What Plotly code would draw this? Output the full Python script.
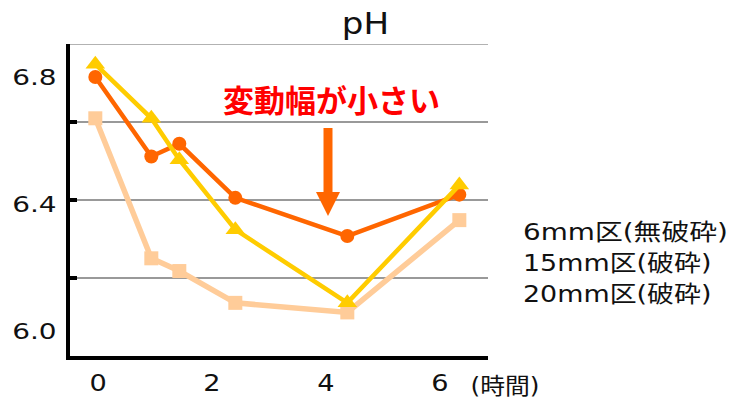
import plotly.graph_objects as go

# Sampling times (h) and pH readings for the three plot sizes
hours = [0, 1, 1.5, 2.5, 4.5, 6.5]
ph_6mm = [6.80, 6.55, 6.59, 6.42, 6.30, 6.43]
ph_15mm = [6.84, 6.67, 6.54, 6.32, 6.09, 6.46]
ph_20mm = [6.67, 6.23, 6.19, 6.09, 6.06, 6.35]

series_names = ["6mm区(無破砕)", "15mm区(破砕)", "20mm区(破砕)"]
x_tick_vals = [0, 2, 4, 6]
y_tick_vals = [6.0, 6.4, 6.8]

ORANGE = "#FF6600"
YELLOW = "#FFCC00"
PEACH = "#FFCC99"
INK = "#111111"
GRID = "#999999"
FONT = "DejaVu Sans, Noto Sans CJK JP, sans-serif"

W, H = 736, 401
L, R, T, B = 70, 488, 44, 356


def px_x(X):
    return (X - L) / (R - L)


def px_y(Y):
    return (B - Y) / (B - T)


fig = go.Figure()

fig.add_trace(go.Scatter(
    x=hours, y=ph_20mm, name=series_names[2], mode="lines+markers",
    line=dict(color=PEACH, width=5.5),
    marker=dict(symbol="square", size=14, color=PEACH),
))
fig.add_trace(go.Scatter(
    x=hours, y=ph_6mm, name=series_names[0], mode="lines+markers",
    line=dict(color=ORANGE, width=4.5),
    marker=dict(symbol="circle", size=14, color=ORANGE),
))
fig.add_trace(go.Scatter(
    x=hours, y=ph_15mm, name=series_names[1], mode="lines+markers",
    line=dict(color=YELLOW, width=4.5),
    marker=dict(symbol="triangle-up", size=17, color=YELLOW),
))

# empty traces that carry the gridline axis and the hour-label axis
fig.add_trace(go.Scatter(x=[None], y=[None], xaxis="x", yaxis="y2",
                         showlegend=False, hoverinfo="skip"))
fig.add_trace(go.Scatter(x=[None], y=[None], xaxis="x2", yaxis="y",
                         showlegend=False, hoverinfo="skip"))

fig.update_layout(
    width=W, height=H,
    margin=dict(l=L, r=W - R, t=T, b=H - B, autoexpand=False),
    paper_bgcolor="white", plot_bgcolor="white",
    showlegend=False,
    font=dict(family=FONT, color=INK),
    xaxis=dict(
        range=[-0.452, 7.012], showgrid=False, zeroline=False,
        showline=True, linecolor="black", linewidth=4,
        ticks="", showticklabels=False, automargin=False,
    ),
    xaxis2=dict(
        overlaying="x", anchor="y", side="bottom",
        range=[-0.4925, 6.847], showgrid=False, zeroline=False,
        showline=False, ticks="", tickvals=x_tick_vals,
        ticktext=[str(v) for v in x_tick_vals],
        tickfont=dict(size=23, family=FONT, color=INK),
        ticklabelstandoff=11, automargin=False,
    ),
    yaxis=dict(
        range=[5.923, 6.9035], showgrid=False, zeroline=False,
        showline=True, linecolor="black", linewidth=4,
        ticks="", tickvals=y_tick_vals,
        ticktext=[f"{v:.1f}" for v in y_tick_vals],
        tickfont=dict(size=22, family=FONT, color=INK),
        ticklabelstandoff=5, automargin=False,
    ),
    yaxis2=dict(
        overlaying="y", anchor="x", side="left",
        range=[6.0, 6.8], dtick=0.2, tick0=6.0,
        showgrid=True, gridcolor=GRID, gridwidth=1.6,
        zeroline=False, showline=False,
        ticks="inside", ticklen=7, tickwidth=3.5, tickcolor="black",
        showticklabels=False, automargin=False,
    ),
)

# top gridline sits on the plot edge, where the axis grid is clipped
fig.add_shape(type="line", xref="paper", yref="y2", x0=0, x1=1, y0=6.8, y1=6.8,
              line=dict(color=GRID, width=1.6), layer="below")

annotations = [
    dict(text="pH", x=px_x(365), y=px_y(23), font=dict(size=31, color=INK)),
    dict(text="変動幅が小さい", x=px_x(331), y=px_y(101),
         font=dict(size=31, color="#FF0000", weight="bold")),
    dict(text="(時間)", x=px_x(505), y=px_y(386), font=dict(size=23, color=INK)),
]
for name, ypix in zip(series_names, [232, 263, 294]):
    annotations.append(dict(text=name, x=px_x(521), y=px_y(ypix), xanchor="left",
                            font=dict(size=23, color=INK)))
for a in annotations:
    a.update(xref="paper", yref="paper", showarrow=False)
    a.setdefault("xanchor", "center")
    a.setdefault("yanchor", "middle")
    a["font"].setdefault("family", FONT)
fig.update_layout(annotations=annotations)

# downward arrow pointing at the 6mm minimum
fig.add_shape(type="line", xref="paper", yref="paper",
              x0=px_x(328), x1=px_x(328), y0=px_y(128), y1=px_y(196),
              line=dict(color=ORANGE, width=9))
fig.add_shape(type="path", xref="paper", yref="paper",
              path=(f"M {px_x(316)},{px_y(192)} L {px_x(340)},{px_y(192)} "
                    f"L {px_x(328)},{px_y(216)} Z"),
              fillcolor=ORANGE, line=dict(width=0))

# The chart's lettering is set wide; widen the glyphs horizontally while
# keeping each label's anchored edge in place.
widen_js = """
var gd = document.getElementById('{plot_id}');
function widen(sel, k, keepLeft) {
  gd.querySelectorAll(sel).forEach(function (t) {
    var b1 = t.getBBox();
    var w = t.getComputedTextLength();
    t.setAttribute('textLength', (w * k).toFixed(2));
    t.setAttribute('lengthAdjust', 'spacingAndGlyphs');
    if (keepLeft) {
      var b2 = t.getBBox();
      var x0 = parseFloat(t.getAttribute('x') || '0');
      t.setAttribute('x', (x0 + (b1.x - b2.x)).toFixed(2));
    }
  });
}
widen('g.ytick text', 1.27, false);
widen('g.x2tick text', 1.18, false);
widen('g.annotation[data-index="0"] text', 1.1, false);
widen('g.annotation[data-index="2"] text', 1.08, false);
widen('g.annotation[data-index="3"] text', 1.21, true);
widen('g.annotation[data-index="4"] text', 1.17, true);
widen('g.annotation[data-index="5"] text', 1.17, true);
"""

fig.write_html("out.html", post_script=widen_js)
